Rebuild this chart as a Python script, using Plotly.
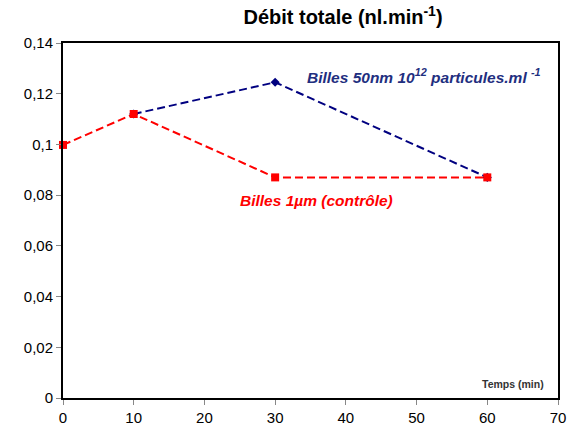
import plotly.graph_objects as go

time_blue = [10, 30, 60]
debit_blue = [0.112, 0.1245, 0.087]
time_red = [0, 10, 30, 60]
debit_red = [0.0998, 0.112, 0.087, 0.087]

x_ticks = [0, 10, 20, 30, 40, 50, 60, 70]
y_ticks = [0, 0.02, 0.04, 0.06, 0.08, 0.1, 0.12, 0.14]
y_tick_text = ["0", "0,02", "0,04", "0,06", "0,08", "0,1", "0,12", "0,14"]

FONT = "Liberation Sans, Arial, sans-serif"

fig = go.Figure()
fig.add_trace(go.Scatter(
    x=time_blue, y=debit_blue, mode="lines+markers",
    line=dict(color="#000080", width=2, dash="8px,4px"),
    marker=dict(symbol="diamond", size=7, color="#000080"),
    showlegend=False, cliponaxis=False,
))
fig.add_trace(go.Scatter(
    x=time_red, y=debit_red, mode="lines+markers",
    line=dict(color="#FF0000", width=2, dash="8px,4px"),
    marker=dict(symbol="square", size=8, color="#FF0000"),
    showlegend=False, cliponaxis=False,
))

fig.update_layout(
    width=568, height=427,
    margin=dict(l=63, r=10, t=43, b=29, autoexpand=False),
    plot_bgcolor="white", paper_bgcolor="white",
    font=dict(family=FONT, size=14, color="black"),
    title=dict(text="<b>Débit totale (nl.min<sup>-1</sup>)</b>",
               xref="container", yref="container",
               x=343/568, y=1 - 17/427, xanchor="center", yanchor="middle",
               font=dict(size=20, color="black")),
    xaxis=dict(range=[0, 70], tickvals=x_ticks, showgrid=False, zeroline=False,
               showline=True, linecolor="black", linewidth=2, mirror=True,
               ticks="outside", ticklen=5, tickcolor="#888888",
               tickfont=dict(size=15), automargin=False),
    yaxis=dict(range=[0, 0.14], tickvals=y_ticks, ticktext=y_tick_text,
               showgrid=False, zeroline=False,
               showline=True, linecolor="black", linewidth=2, mirror=True,
               ticks="outside", ticklen=5, tickcolor="#888888",
               tickfont=dict(size=15), automargin=False),
    annotations=[
        dict(text="<b><i>Billes 50nm 10<sup>12</sup> particules.ml <sup>-1</sup></i></b>",
             xref="x", yref="y", x=34.2, y=0.127, xanchor="left", yanchor="middle",
             showarrow=False, font=dict(size=15.5, color="#1F2F7F")),
        dict(text="<b><i>Billes 1µm (contrôle)</i></b>",
             xref="x", yref="y", x=24.7, y=0.0777, xanchor="left", yanchor="middle",
             showarrow=False, font=dict(size=15.5, color="#FF0000")),
        dict(text="<b>Temps (min)</b>",
             xref="x", yref="y", x=68.3, y=0.0022, xanchor="right", yanchor="bottom",
             showarrow=False, font=dict(size=10.5, color="#333333")),
    ],
)
fig.write_html("out.html", config={"displayModeBar": False},
               post_script="document.body.style.margin='0';")
